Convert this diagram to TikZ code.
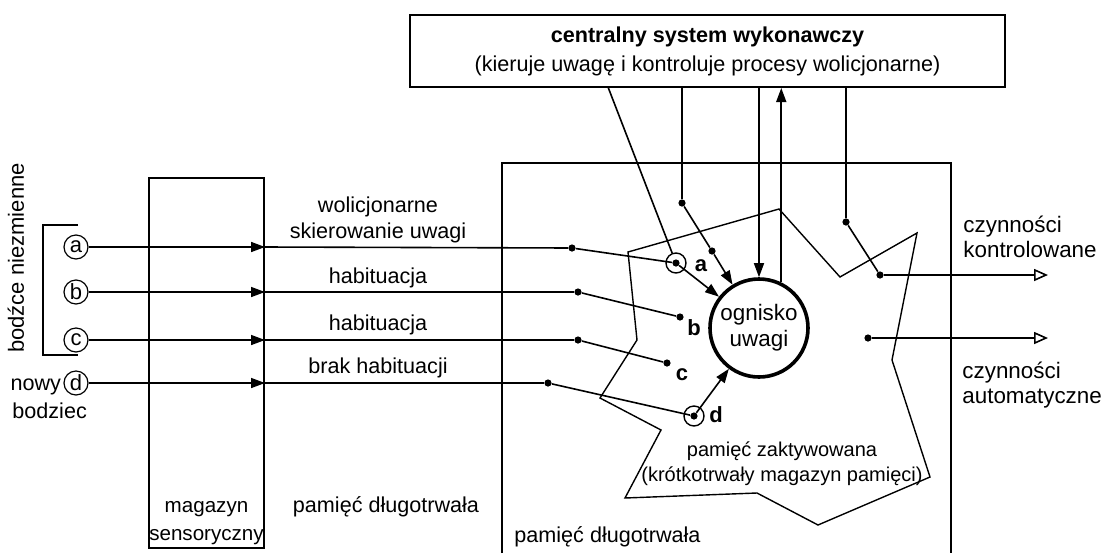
\documentclass[tikz,border=0pt]{standalone}
\usepackage{fontspec}
\setmainfont{Liberation Sans}
\usetikzlibrary{arrows.meta,positioning}

\tikzset{
  ln/.style={line width=0.8pt},
  arr/.style={ln, -{Triangle[length=7pt,width=5pt]}},
  oarr/.style={ln, -{Triangle[open,length=7pt,width=6pt]}},
  dot/.style={circle, fill, inner sep=0pt, minimum size=3.6pt},
  ring/.style={circle, draw, line width=0.7pt, inner sep=0pt, minimum size=10pt},
  cletter/.style={circle, draw, line width=0.6pt, inner sep=0pt, minimum size=12pt,
    font=\fontsize{11}{12}\selectfont},
  lbl/.style={font=\fontsize{11}{12}\selectfont\bfseries},
  txt/.style={font=\fontsize{10.8}{12.8}\selectfont, align=center, inner sep=0pt}
}

\begin{document}
\begin{tikzpicture}[x=0.5pt, y=-0.5pt]
  \useasboundingbox (0,0) rectangle (1104,553);

  % centralny system wykonawczy
  \node (cse) [draw, line width=1pt, minimum width=297.5pt, minimum height=36pt,
    align=center, font=\fontsize{10.8}{14.5}\selectfont] at (707.5,51)
    {\textbf{centralny system wykonawczy}\\(kieruje uwagę i kontroluje procesy wolicjonarne)};

  % magazyn sensoryczny i pamięć długotrwała
  \node (sens) [draw, line width=1pt, minimum width=57.5pt, minimum height=185pt] at (206.5,363) {};
  \node [txt, anchor=south, font=\fontsize{10.3}{14}\selectfont] at ([yshift=2pt]sens.south) {magazyn\\sensoryczny};
  \node [txt] at (386,507) {pamięć długotrwała};
  \draw[line width=1pt] (502,553) -- (502,163) -- (951,163) -- (951,553);
  \node [txt, anchor=west] at (514,537) {pamięć długotrwała};

  % pamięć zaktywowana
  \draw[line width=0.7pt] (628,252) -- (779,209) -- (840,277) -- (917,233) -- (892,360)
    -- (930,477) -- (818,525) -- (757,493) -- (625,498) -- (661,430) -- (600,398)
    -- (637,340) -- cycle;
  \node [txt, font=\fontsize{10}{12.5}\selectfont] at (782,464) {pamięć zaktywowana\\(krótkotrwały magazyn pamięci)};

  % ognisko uwagi
  \node (og) [circle, draw, line width=1.8pt, minimum size=49pt, inner sep=0pt, align=center,
    font=\fontsize{11.2}{13}\selectfont] at (759,328) {ognisko\\uwagi};

  % bodźce
  \node (ca) [cletter] at (76,247) {a};
  \node (cb) [cletter] at (76,292) {b};
  \node (cc) [cletter] at (76,340) {c};
  \node (cd) [cletter] at (76,383) {d};
  \draw[line width=0.6pt] (78,225) -- (43,225) -- (43,355) -- (78,355);
  \node [txt, rotate=90, font=\fontsize{11}{13}\selectfont] at (16,258) {bodźce niezmienne};
  \node [txt, anchor=east] at ([xshift=-1pt,yshift=-2pt]cd.west) {nowy};
  \node [txt, anchor=west] at (12,411) {bodziec};

  % punkty
  \node (da) [dot] at (572,248) {};
  \node (db) [dot] at (578,292) {};
  \node (dc) [dot] at (578,340) {};
  \node (dd) [dot] at (548,383) {};
  \node (ra) [dot] at (676,263) {};
  \node (rar) [ring] at (676,263) {};
  \node (rb) [dot] at (680,317) {};
  \node (rc) [dot] at (667,363) {};
  \node (rd) [dot] at (694,416) {};
  \node (rdr) [ring] at (694,416) {};
  \node (p1) [dot] at (682,203) {};
  \node (p2) [dot] at (712,251) {};
  \node (q1) [dot] at (846,222) {};
  \node (q2) [dot] at (880,275) {};
  \node (q3) [dot] at (868,338) {};
  \coordinate (k1) at (608,87);
  \coordinate (out1) at (1048,275);
  \coordinate (out2) at (1048,338);

  \node [lbl] at (701,266) {a};
  \node [lbl] at (694,328) {b};
  \node [lbl] at (682,375) {c};
  \node [lbl] at (716,415) {d};

  % linie bodźców
  \foreach \c/\d in {ca/da, cb/db, cc/dc, cd/dd} {
    \draw[arr] (\c.east) -- (sens.east |- \c);
    \draw[ln] (sens.east |- \c) -- (\d);
  }
  \draw[ln] (da) -- (ra);
  \draw[ln] (db) -- (rb);
  \draw[ln] (dc) -- (rc);
  \draw[ln] (dd) -- (rd);
  \draw[arr] (ra) -- (og);
  \draw[arr] (rd) -- (og);

  % opisy linii
  \node [txt] at (378,220) {wolicjonarne\\skierowanie uwagi};
  \node [txt] at (378,278) {habituacja};
  \node [txt] at (378,325) {habituacja};
  \node [txt] at (378,368) {brak habituacji};

  % połączenia z systemem wykonawczym
  \draw[ln] (k1) -- (rar);
  \draw[ln] (cse.south -| p1) -- (p1);
  \draw[arr] (p1) -- (p2) -- (og);
  \draw[arr] (cse.south -| og.north) -- (og.north);
  \draw[arr] (og.64) -- (og.64 |- cse.south);
  \draw[ln] (cse.south -| q1) -- (q1) -- (q2);
  \draw[oarr] (q2) -- (out1);
  \draw[oarr] (q3) -- (out2);

  % czynności
  \node [txt, anchor=west, align=left, font=\fontsize{11.2}{12.8}\selectfont] at (963,237) {czynności\\kontrolowane};
  \node [txt, anchor=west, align=left, font=\fontsize{11.2}{12.8}\selectfont] at (962,385) {czynności\\automatyczne};
\end{tikzpicture}
\end{document}
